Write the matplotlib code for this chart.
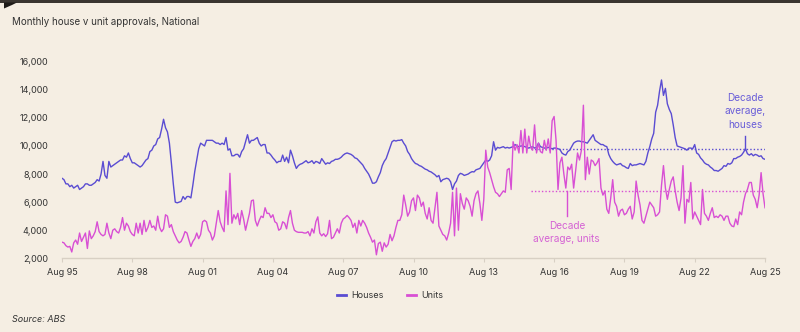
import numpy as np
import matplotlib
matplotlib.use('Agg')
import matplotlib.pyplot as plt
from matplotlib.patches import Polygon
from matplotlib.lines import Line2D

plt.rcParams['font.family'] = ['Inter', 'DejaVu Sans']

# monthly approvals, Aug 1995 .. Aug 2025 (one row per 12 months)
houses = [
    7700, 7600, 7300, 7300, 7100, 7200, 7000, 7100, 7200, 6900, 7000, 7100,
    7300, 7300, 7200, 7200, 7300, 7400, 7600, 7500, 8000, 8900, 7900, 7700,
    8900, 8500, 8600, 8700, 8800, 8900, 9000, 9000, 9300, 9200, 9500, 9100,
    8800, 8800, 8700, 8600, 8500, 8600, 8800, 9000, 9100, 9600, 9700, 10000,
    10100, 10500, 10600, 11200, 11900, 11300, 11000, 10200, 8800, 7300, 6000, 5950,
    6000, 6050, 6400, 6200, 6400, 6400, 6300, 7200, 8200, 9000, 9800, 10200,
    10100, 10000, 10400, 10400, 10400, 10400, 10300, 10200, 10200, 10100, 10200, 10100,
    10600, 9700, 9800, 9300, 9300, 9400, 9400, 9200, 9600, 9800, 10300, 10800,
    10200, 10400, 10400, 10500, 10600, 10200, 10000, 10100, 10100, 9500, 9500, 9350,
    9150, 9000, 8800, 8900, 8900, 9350, 8900, 9200, 8800, 9700, 9300, 8800,
    8400, 8600, 8700, 8750, 8850, 8950, 8800, 8850, 8950, 8750, 8900, 8850,
    8750, 9100, 8900, 8700, 8800, 8750, 8900, 8950, 9050, 9050, 9100, 9200,
    9350, 9450, 9500, 9450, 9400, 9300, 9150, 9100, 8950, 8800, 8650, 8400,
    8200, 8000, 7700, 7350, 7350, 7450, 7800, 8100, 8600, 8900, 9100, 9500,
    9900, 10300, 10400, 10350, 10400, 10400, 10450, 10200, 10000, 9600, 9400, 9100,
    8900, 8750, 8700, 8600, 8550, 8450, 8350, 8300, 8200, 8150, 8050, 7950,
    7800, 7900, 7450, 7600, 7650, 7700, 7650, 7450, 6900, 7300, 7500, 7900,
    8050, 8000, 7900, 7950, 8000, 8100, 8170, 8150, 8300, 8350, 8400, 8600,
    8800, 9000, 8900, 9000, 9300, 10300, 9700, 9900, 9850, 9900, 9950, 9850,
    9900, 9850, 9900, 9950, 10100, 10000, 9950, 10000, 10000, 9950, 9900, 9850,
    9900, 9950, 9850, 9900, 10200, 9950, 9900, 9850, 9850, 9900, 9850, 9800,
    9850, 9850, 9800, 9750, 9500, 9400, 9350, 9600, 9700, 9950, 10200, 10300,
    10350, 10350, 10300, 10300, 10250, 10200, 10400, 10600, 10800, 10400, 10300, 10200,
    10100, 10100, 10000, 9950, 9400, 9100, 8900, 8750, 8650, 8700, 8750, 8600,
    8550, 8450, 8400, 8750, 8600, 8650, 8650, 8700, 8750, 8700, 8650, 8900,
    9500, 9950, 10500, 10900, 12400, 12900, 13900, 14700, 13600, 14100, 13000, 12600,
    12300, 11500, 10600, 10000, 9950, 9900, 9850, 9800, 9700, 9850, 9850, 9800,
    10100, 9500, 9400, 9150, 9000, 8800, 8700, 8650, 8500, 8400, 8250, 8250,
    8200, 8300, 8400, 8600, 8550, 8750, 8700, 8800, 9100, 9100, 9200, 9250,
    9350, 9550, 9800, 9450, 9350, 9450, 9300, 9400, 9350, 9250, 9300, 9100,
    9050,
]

units = [
    3150, 3100, 2900, 2800, 2850, 2450, 3100, 3300, 3000, 3800, 3200, 3500,
    3800, 2700, 3950, 3400, 3600, 3900, 4600, 3900, 3700, 3600, 3700, 4500,
    3800, 3400, 4000, 4100, 3900, 3800, 4200, 4900, 4000, 4500, 4300, 3900,
    3700, 3600, 4500, 3800, 4500, 3700, 4700, 3900, 4200, 4700, 4200, 4300,
    4000, 5000, 4200, 3900, 4100, 5100, 5000, 4200, 4400, 3900, 3600, 3300,
    3100, 3200, 3500, 3900, 3800, 3300, 2850, 3200, 3400, 3800, 3400, 3700,
    4600, 4700, 4600, 4000, 3800, 3300, 3600, 4500, 5400, 4600, 4200, 3900,
    6800, 4400, 8050, 4500, 5100, 4800, 5200, 4400, 5400, 4800, 4000, 4600,
    5200, 6100, 6150, 4700, 4300, 4700, 5000, 4900, 5600, 5200, 5200, 4900,
    5100, 4600, 4500, 4000, 4100, 4600, 4500, 4100, 4900, 5400, 4500, 4000,
    3900, 3850, 3850, 3850, 3800, 3800, 3900, 3600, 4100, 3800, 4600, 4950,
    3800, 3600, 3750, 3550, 3750, 4700, 3400, 3500, 3800, 4100, 3800, 4500,
    4800, 4900, 5050, 4900, 4700, 4200, 4500, 3800, 4700, 4300, 4700, 4500,
    4200, 3800, 3500, 3150, 3300, 2250, 3050, 3150, 2500, 3100, 2800, 3000,
    3700, 3250, 3600, 4200, 4700, 4700, 5100, 6500, 5800, 5000, 5300, 6100,
    6300, 5400, 6500, 6300, 5700, 6000, 5200, 4800, 5600, 4700, 4500, 5600,
    6700, 4300, 4000, 3700, 3600, 3300, 3800, 4500, 6700, 3600, 7000, 4000,
    6600, 5900, 5500, 6300, 6100, 5700, 5000, 6100, 6600, 6800, 5900, 4700,
    6200, 9700, 8500, 8100, 7600, 7100, 6700, 6600, 6400, 6600, 6800, 6700,
    8300, 8400, 6900, 10300, 9700, 10100, 9500, 11100, 9500, 11200, 9500, 10700,
    9900, 9700, 11500, 9500, 10200, 9600, 9500, 10400, 9700, 10500, 9500, 11800,
    12100, 10400, 6900, 8800, 9200, 8000, 7000, 8500, 8300, 8700, 7000, 8200,
    9500, 9000, 9700, 12900, 7600, 9200, 8000, 9000, 8900, 8600, 8800, 9100,
    7000, 6500, 6800, 5500, 5200, 6300, 7600, 6000, 5700, 5000, 5400, 5500,
    5100, 5200, 5500, 5700, 4800, 5300, 7500, 6500, 5800, 4700, 4500, 5000,
    5500, 6000, 5800, 5600, 5000, 5100, 5300, 7200, 8600, 7000, 6200, 6900,
    7500, 7800, 6800, 6000, 5400, 6300, 8600, 4500, 6200, 6000, 7400, 4800,
    5300, 5000, 4700, 4400, 6900, 5200, 5000, 4700, 5200, 5600, 4900, 5000,
    4900, 5100, 5000, 4700, 5000, 5000, 4500, 4300, 4250, 4800, 4400, 5300,
    5100, 6000, 6600, 6900, 7400, 7400, 6500, 6200, 5600, 6500, 8100, 6600,
    5600,
]

tick_labels = ['Aug 95', 'Aug 98', 'Aug 01', 'Aug 04', 'Aug 07', 'Aug 10',
               'Aug 13', 'Aug 16', 'Aug 19', 'Aug 22', 'Aug 25']
y_ticks = [2000, 4000, 6000, 8000, 10000, 12000, 14000, 16000]

bg = '#f5eee3'
house_col = '#5a4cd2'
unit_col = '#d84fd4'
text_col = '#333333'

months = np.arange(len(houses))
# decade average over the last ten years of data
house_avg = np.mean(houses[-120:])
unit_avg = np.mean(units[-120:])
avg_start = len(houses) - 121

fig = plt.figure(figsize=(8, 3.32), dpi=100, facecolor=bg)
ax = fig.add_axes([62 / 800, 1 - 258.3 / 332, 703 / 800, 196.6 / 332])
ax.set_facecolor(bg)

ax.plot(months, houses, color=house_col, lw=1.0, zorder=3)
ax.plot(months, units, color=unit_col, lw=1.0, zorder=3)

# dotted decade averages
ax.plot([avg_start, months[-1]], [house_avg, house_avg], color=house_col,
        lw=1.0, ls=(0, (1, 1.5)), zorder=2)
ax.plot([avg_start, months[-1]], [unit_avg, unit_avg], color=unit_col,
        lw=1.0, ls=(0, (1, 1.5)), zorder=2)

# labels with short leader lines
ax.plot([349.8, 349.8], [house_avg, house_avg + 950], color=house_col, lw=1.0, zorder=4)
ax.text(349.8, house_avg + 1400, 'Decade\naverage,\nhouses', color='#6a5ed8',
        fontsize=7.2, ha='center', va='bottom', linespacing=1.45)
ax.plot([258.5, 258.5], [unit_avg, unit_avg - 1800], color=unit_col, lw=1.0, zorder=4)
ax.text(258.5, unit_avg - 2150, 'Decade\naverage, units', color='#d563d4',
        fontsize=7.2, ha='center', va='top', linespacing=1.45)

ax.set_xlim(0, 360)
ax.set_ylim(2000, 16000)
ax.set_xticks(np.arange(0, 361, 36))
ax.set_xticklabels(tick_labels)
ax.set_yticks(y_ticks)
ax.set_yticklabels([f'{v:,}' for v in y_ticks])
ax.tick_params(axis='x', length=3, color='#d8d0c4', labelsize=6.5,
               labelcolor=text_col, pad=4)
ax.tick_params(axis='y', length=0, labelsize=6.5, labelcolor=text_col, pad=10)
for side in ['top', 'right', 'left']:
    ax.spines[side].set_visible(False)
ax.spines['bottom'].set_color('#d8d0c4')
ax.spines['bottom'].set_linewidth(1.0)

# title, legend, source
fig.text(12 / 800, 1 - 22 / 332, 'Monthly house v unit approvals, National',
         fontsize=7, color=text_col, va='center', ha='left')
handles = [Line2D([], [], color=house_col, lw=2),
           Line2D([], [], color=unit_col, lw=2)]
fig.legend(handles, ['Houses', 'Units'], loc='center',
           bbox_to_anchor=(390 / 800, 1 - 296 / 332), ncol=2, frameon=False,
           fontsize=6.5, handlelength=1.0, handletextpad=0.6, columnspacing=2.6,
           labelcolor=text_col)
fig.text(12 / 800, 1 - 320 / 332, 'Source: ABS', fontsize=6.5,
         style='italic', color=text_col, va='center', ha='left')

# top rule and corner flag
fig.add_artist(plt.Rectangle((0, 1 - 2.5 / 332), 1, 2.5 / 332, transform=fig.transFigure,
                             color='#3a3530', lw=0))
flag = Polygon([(4 / 800, 1 - 2.5 / 332), (17 / 800, 1 - 2.5 / 332),
                (12 / 800, 1 - 5 / 332), (4 / 800, 1 - 8.5 / 332)],
               closed=True, transform=fig.transFigure, color='#1e1b18', lw=0)
fig.add_artist(flag)

fig.savefig('out.png', dpi=100, facecolor=bg)
